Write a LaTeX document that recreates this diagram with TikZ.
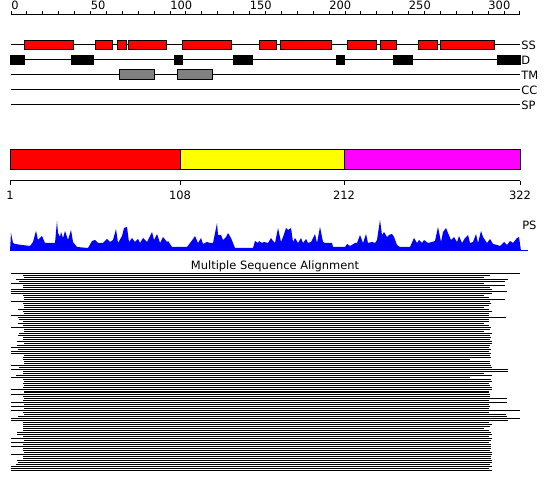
\documentclass[tikz,border=0pt]{standalone}
\usepackage{fontspec}
\setmainfont{DejaVu Sans}
\usepackage{tikz}
\usetikzlibrary{positioning}
\definecolor{ssred}{RGB}{255,0,0}
\definecolor{domyellow}{RGB}{255,255,0}
\definecolor{dommagenta}{RGB}{255,0,255}
\definecolor{psblue}{RGB}{0,0,255}
\definecolor{tmgray}{RGB}{128,128,128}
\tikzstyle{track} = [draw=black, line width=0.75pt]
\tikzstyle{helix} = [draw=black, line width=0.75pt, fill=ssred]
\tikzstyle{disorder} = [fill=black]
\tikzstyle{tmseg} = [draw=black, line width=0.75pt, fill=tmgray]
\tikzstyle{lbl} = [inner sep=0pt, font=\fontsize{8.6}{10}\selectfont]
\tikzstyle{aln} = [draw=black, line width=0.75pt]
\tikzstyle{psfill} = [fill=psblue]

\begin{document}
\begin{tikzpicture}[x=0.75pt, y=-0.75pt]
	\useasboundingbox (0,0) rectangle (550,495);
	\fill[white] (0,0) rectangle (550,495);
	% residue ruler
	\draw[track] (11,15) -- (519.5,15);
	\foreach \n in {0,10,...,320}
		\draw[track] ({11+1.5906*\n},15) -- ({11+1.5906*\n},11.5);
	\foreach \n in {0,50,...,300}
		\node[lbl, anchor=base west] (top\n) at ({11+1.5906*\n},10) {\n};
	% feature tracks
	\foreach \t/\y in {SS/45, D/60, TM/75, CC/90, SP/105}{
		\draw[track] (11,\y) -- (520,\y);
		\node[lbl, anchor=base west] (lab\t) at (521,\y+4.4) {\t};
	}
	\foreach \a/\b in {24/73, 95/112, 117/126, 128/166, 182/231, 259/276, 280/331, 347/376, 380/396, 418/437, 440/494}
		\draw[helix] (\a,41) rectangle (\b,50);
	\foreach \a/\b in {10/25, 71/94, 174/183, 233/253, 336/345, 393/413, 497/521}
		\fill[disorder] (\a,55) rectangle (\b,65.5);
	\foreach \a/\b in {119/154, 177/212}
		\draw[tmseg] (\a,70) rectangle (\b,80);
	% domain bar
	\draw[track, fill=ssred] (10,150) rectangle (180,170);
	\draw[track, fill=domyellow] (180,150) rectangle (344,170);
	\draw[track, fill=dommagenta] (344,150) rectangle (520,170);
	\draw[track] (10,181) -- (520,181);
	\foreach \x/\n in {10/1, 180/108, 344/212, 520/322}{
		\draw[track] (\x,181) -- (\x,185.5);
		\node[lbl, anchor=base] (dom\n) at (\x,199.5) {\n};
	}
	% PS profile
	\fill[psfill] plot coordinates {(10,251) (11,233) (13,243) (15,244) (22,245) (30,246) (33,242) (36,231) (38,240) (42,236) (45,243) (55,243) (57,221) (58,233) (60,237) (61,232) (63,238) (65,231) (68,240) (71,230) (73,242) (77,247) (88,248) (92,241) (95,240) (98,243) (103,243) (107,239) (110,242) (113,240) (116,229) (118,243) (122,236) (124,228) (127,227) (129,242) (132,238) (135,242) (138,239) (140,243) (143,238) (147,242) (152,232) (154,240) (157,234) (160,243) (163,237) (167,242) (168,241) (172,247) (187,247) (190,243) (193,239) (195,236) (198,243) (201,238) (203,244) (207,242) (210,243) (213,243) (217,223) (218,235) (221,235) (223,240) (226,237) (228,233) (231,238) (233,243) (235,248) (253,248) (255,241) (258,243) (259,241) (262,243) (264,242) (268,243) (271,238) (273,241) (275,243) (278,228) (281,242) (283,237) (286,228) (288,230) (291,228) (293,242) (295,238) (298,243) (301,238) (303,243) (306,239) (308,243) (311,242) (315,234) (317,243) (320,227) (323,242) (325,243) (328,243) (332,243) (333,247) (345,247) (347,244) (350,246) (355,243) (357,243) (360,235) (363,243) (366,234) (368,243) (372,242) (375,243) (377,240) (380,220) (382,235) (384,232) (387,237) (389,235) (392,234) (394,237) (397,245) (400,247) (410,247) (414,238) (417,243) (419,240) (422,243) (424,240) (428,243) (432,242) (435,241) (438,227) (441,242) (443,232) (446,228) (448,233) (451,240) (454,237) (457,242) (459,236) (462,243) (465,238) (468,235) (470,243) (473,242) (476,234) (478,243) (481,231) (483,237) (487,243) (490,239) (493,244) (497,245) (500,246) (504,242) (507,245) (510,241) (513,243) (517,238) (519,237) (521,251)};
	\draw[psblue, line width=0.75pt] (10,250.5) -- (528,250.5);
	\node[lbl, anchor=base west] (labPS) at (522,230) {PS};
	% alignment
	\node[lbl, anchor=base] (msa) at (275,270) {Multiple Sequence Alignment};
	\draw[aln] (11,274) -- (520,274);
	\pgfmathsetseed{17}
	\foreach \r in {1,...,98}{
		\pgfmathsetmacro{\ya}{274+2*\r}
		\pgfmathtruncatemacro{\s}{random(0,9)}
		\pgfmathsetmacro{\xa}{\s<2 ? 11 : (\s<4 ? 16+random(0,3) : 23+random(0,1))}
		\pgfmathtruncatemacro{\t}{random(0,39)}
		\pgfmathsetmacro{\xb}{\t<31 ? 489+random(0,3) : (\t<35 ? 505+random(0,3) : (\t<38 ? 484 : (\t<39 ? 470 : 520)))}
		\draw[aln] (\xa,\ya) -- (\xb,\ya);
	}
\end{tikzpicture}
\end{document}
